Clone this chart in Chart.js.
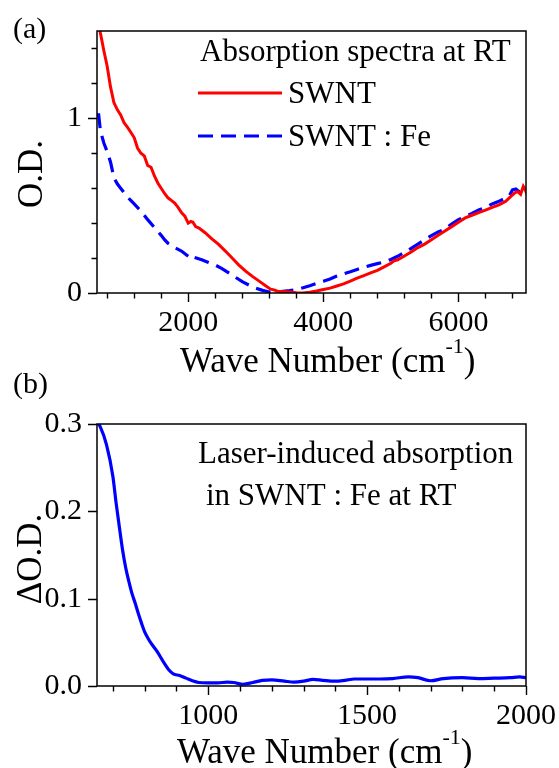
<!DOCTYPE html>
<html>
<head>
<meta charset="utf-8">
<script src="https://cdn.jsdelivr.net/npm/chart.js@4.4.1/dist/chart.umd.min.js"></script>
<style>
  html, body { margin: 0; padding: 0; background: #fff; }
  #wrap { position: relative; width: 559px; height: 768px; }
  #wrap canvas { position: absolute; left: 0; top: 0; }
</style>
</head>
<body>
<div id="wrap">
  <canvas id="absChart" width="559" height="768"></canvas>
  <canvas id="liaChart" width="559" height="768"></canvas>
</div>
<script>
// ---- (a) absorption spectra at room temperature ----
const swntWave = [650, 700, 750, 800, 850, 900, 950, 1000, 1050, 1100, 1150, 1200, 1250, 1300, 1350, 1400,
  1450, 1500, 1550, 1600, 1650, 1700, 1750, 1800, 1850, 1900, 1950, 2000, 2040, 2070, 2110, 2160, 2250,
  2350, 2450, 2550, 2650, 2750, 2850, 2950, 3050, 3150, 3220, 3270, 3320, 3400, 3500, 3600, 3700, 3800,
  3900, 4000, 4100, 4200, 4300, 4400, 4500, 4600, 4700, 4800, 4900, 5000, 5050, 5100, 5200, 5300, 5400,
  5500, 5600, 5700, 5800, 5900, 6000, 6100, 6200, 6300, 6400, 6500, 6600, 6700, 6780, 6840, 6880, 6920,
  6960, 6990, 7020];
const swntOD = [1.72, 1.49, 1.39, 1.30, 1.18, 1.09, 1.05, 1.02, 0.975, 0.95, 0.92, 0.89, 0.83, 0.80, 0.785, 0.73,
  0.72, 0.67, 0.63, 0.60, 0.57, 0.545, 0.53, 0.515, 0.49, 0.46, 0.44, 0.40, 0.41, 0.405, 0.38, 0.372, 0.345,
  0.31, 0.278, 0.24, 0.2, 0.16, 0.125, 0.095, 0.068, 0.04, 0.022, 0.018, 0.01, 0.008, 0.006, 0.002, 0.0, 0.005,
  0.012, 0.02, 0.028, 0.04, 0.052, 0.068, 0.085, 0.10, 0.115, 0.13, 0.15, 0.17, 0.185, 0.19, 0.212, 0.235, 0.26,
  0.28, 0.305, 0.33, 0.355, 0.38, 0.405, 0.43, 0.445, 0.46, 0.475, 0.49, 0.505, 0.525, 0.555, 0.575, 0.58, 0.565,
  0.61, 0.59, 0.56];

const feWave = [650, 675, 700, 750, 800, 850, 900, 950, 1000, 1100, 1150, 1200, 1300, 1400, 1500, 1600, 1650,
  1700, 1800, 1900, 2000, 2050, 2080, 2120, 2200, 2300, 2400, 2500, 2600, 2700, 2800, 2900, 3000, 3100, 3200,
  3300, 3400, 3500, 3600, 3700, 3800, 3900, 4000, 4100, 4200, 4300, 4400, 4500, 4600, 4700, 4800, 4900, 5000,
  5100, 5200, 5300, 5400, 5500, 5600, 5700, 5800, 5900, 6000, 6100, 6200, 6300, 6400, 6500, 6600, 6700, 6750,
  6800, 6850, 6900, 6950, 7000];
const feOD = [1.02, 1.02, 0.93, 0.86, 0.81, 0.75, 0.66, 0.625, 0.60, 0.55, 0.53, 0.51, 0.47, 0.42, 0.375, 0.33, 0.305,
  0.285, 0.26, 0.24, 0.21, 0.195, 0.205, 0.20, 0.19, 0.175, 0.16, 0.14, 0.115, 0.09, 0.065, 0.045, 0.028, 0.015, 0.006,
  0.004, 0.01, 0.014, 0.02, 0.03, 0.042, 0.055, 0.067, 0.08, 0.097, 0.11, 0.122, 0.135, 0.148, 0.158, 0.168, 0.178, 0.192,
  0.21, 0.232, 0.255, 0.28, 0.305, 0.328, 0.35, 0.365, 0.395, 0.42, 0.438, 0.455, 0.475, 0.49, 0.51, 0.525, 0.545, 0.555,
  0.59, 0.595, 0.58, 0.59, 0.60];

const absXLabels = [2000, 4000, 6000];
const absXMinor = [800, 1200, 1600, 2400, 2800, 3200, 3600, 4400, 4800, 5200, 5600, 6400, 6800];
const absYLabels = [0, 1];
const absYMinor = [0.2, 0.4, 0.6, 0.8, 1.2, 1.4];

// ---- (b) laser-induced absorption in SWNT : Fe ----
const liaWave = [650, 660, 680, 700, 710, 720, 730, 740, 750, 760, 770, 780, 790, 800, 810, 820, 840, 860, 875,
  890, 910, 930, 950, 970, 1000, 1030, 1060, 1080, 1110, 1140, 1170, 1200, 1240, 1270, 1300, 1330, 1360, 1400,
  1430, 1460, 1500, 1540, 1580, 1630, 1660, 1700, 1740, 1800, 1850, 1900, 1950, 1980, 2000];
const liaDOD = [0.302, 0.297, 0.276, 0.24, 0.21, 0.183, 0.157, 0.136, 0.12, 0.106, 0.095, 0.083, 0.072, 0.062, 0.055,
  0.049, 0.039, 0.027, 0.019, 0.014, 0.012, 0.009, 0.006, 0.004, 0.0035, 0.0035, 0.0045, 0.004, 0.002, 0.004, 0.0065,
  0.007, 0.0055, 0.0045, 0.0055, 0.0075, 0.0065, 0.0055, 0.0065, 0.008, 0.008, 0.008, 0.0085, 0.0105, 0.0095, 0.006,
  0.0085, 0.0095, 0.0085, 0.009, 0.0095, 0.0105, 0.0095];

const liaXLabels = [1000, 1500, 2000];
const liaXMinor = [700, 800, 900, 1100, 1200, 1300, 1400, 1600, 1700, 1800, 1900];
const liaYLabels = [0, 0.1, 0.2, 0.3];

const SERIF = "'Liberation Serif', 'Times New Roman', Times, serif";
const toPoints = (xs, ys) => xs.map((x, i) => ({ x, y: ys[i] }));

// Frame, outward tick marks and all panel text.
function makeDecor(spec) {
  return {
    id: 'panelDecor',
    afterDraw(chart) {
      const { ctx, chartArea: a } = chart;
      const xs = chart.scales.x, ys = chart.scales.y;
      ctx.save();
      ctx.strokeStyle = '#000';
      ctx.lineWidth = 1.5;
      ctx.strokeRect(a.left, a.top, a.right - a.left, a.bottom - a.top);

      ctx.lineWidth = 1.4;
      ctx.beginPath();
      const tickX = (vals, len) => vals.forEach(v => {
        const p = Math.round(xs.getPixelForValue(v)) + 0.5;
        ctx.moveTo(p, a.bottom); ctx.lineTo(p, a.bottom + len);
      });
      const tickY = (vals, len) => vals.forEach(v => {
        const p = Math.round(ys.getPixelForValue(v)) + 0.5;
        ctx.moveTo(a.left, p); ctx.lineTo(a.left - len, p);
      });
      tickX(spec.xMajor, 9); tickX(spec.xMinor, 5.5);
      tickY(spec.yMajor, 9); tickY(spec.yMinor, 5.5);
      ctx.stroke();

      ctx.fillStyle = '#000';
      ctx.textBaseline = 'alphabetic';
      ctx.textAlign = 'left';

      // panel letter
      ctx.font = `30px ${SERIF}`;
      ctx.fillText(spec.panel, 13, a.top + spec.panelDy);

      // x-axis title with superscript
      ctx.font = `35px ${SERIF}`;
      const main = 'Wave Number (cm';
      let x = spec.xTitleX;
      const base = a.bottom + spec.xTitleDy;
      ctx.fillText(main, x, base);
      x += ctx.measureText(main).width;
      ctx.font = `22px ${SERIF}`;
      ctx.fillText('-1', x, base - 19);
      x += ctx.measureText('-1').width;
      ctx.font = `35px ${SERIF}`;
      ctx.fillText(')', x, base);

      // y-axis title, rotated
      ctx.save();
      ctx.translate(spec.yTitleX, spec.yTitleY);
      ctx.rotate(-Math.PI / 2);
      ctx.textAlign = 'center';
      ctx.font = `35px ${SERIF}`;
      ctx.fillText(spec.yTitle, 0, 0);
      ctx.restore();

      // in-plot notes / legend
      ctx.font = `31px ${SERIF}`;
      spec.notes.forEach(n => ctx.fillText(n.text, a.left + n.dx, a.top + n.dy));
      (spec.keys || []).forEach(k => {
        const ds = chart.data.datasets[k.index];
        ctx.save();
        ctx.strokeStyle = ds.borderColor;
        ctx.lineWidth = ds.borderWidth;
        ctx.setLineDash(ds.borderDash || []);
        ctx.beginPath();
        ctx.moveTo(a.left + k.dx, a.top + k.dy);
        ctx.lineTo(a.left + k.dx + 84, a.top + k.dy);
        ctx.stroke();
        ctx.restore();
        ctx.fillText(ds.label, a.left + k.dx + 90, a.top + k.dy + 10);
      });
      ctx.restore();
    }
  };
}

function axisX(min, max, labels, fit) {
  return {
    type: 'linear', min, max,
    grid: { display: false, drawTicks: true, tickLength: 9 },
    border: { display: false },
    afterBuildTicks: s => { s.ticks = labels.map(v => ({ value: v })); },
    afterFit: s => { s.height = fit; },
    ticks: { font: { family: SERIF, size: 30 }, color: '#000', padding: 3, maxRotation: 0, autoSkip: false,
      callback: v => String(v) }
  };
}
function axisY(min, max, labels, fmt) {
  return {
    type: 'linear', min, max,
    grid: { display: false, drawTicks: true, tickLength: 9 },
    border: { display: false },
    afterBuildTicks: s => { s.ticks = labels.map(v => ({ value: v })); },
    afterFit: s => { s.width = 97; },
    ticks: { font: { family: SERIF, size: 30 }, color: '#000', padding: 6, autoSkip: false, callback: fmt }
  };
}

const common = {
  responsive: false,
  animation: false,
  events: [],
  plugins: { legend: { display: false }, tooltip: { enabled: false } },
  elements: { point: { radius: 0 } }
};

new Chart(document.getElementById('absChart'), {
  type: 'line',
  data: {
    datasets: [
      { label: 'SWNT', data: toPoints(swntWave, swntOD), borderColor: '#ff0000', borderWidth: 3,
        tension: 0, fill: false },
      { label: 'SWNT : Fe', data: toPoints(feWave, feOD), borderColor: '#0000ff', borderWidth: 3.2,
        borderDash: [15, 8], tension: 0, fill: false }
    ]
  },
  options: Object.assign({}, common, {
    layout: { padding: { left: 0, top: 31, right: 33, bottom: 768 - 293 - 60 } },
    scales: {
      x: axisX(650, 7000, absXLabels, 60),
      y: axisY(0, 1.5, absYLabels, v => String(v))
    }
  }),
  plugins: [makeDecor({
    panel: '(a)', panelDy: 7,
    xMajor: absXLabels, xMinor: absXMinor, yMajor: absYLabels, yMinor: absYMinor,
    xTitleX: 180, xTitleDy: 79,
    yTitle: 'O.D.', yTitleX: 42, yTitleY: 174,
    notes: [{ text: 'Absorption spectra at RT', dx: 103, dy: 30 }],
    keys: [{ index: 0, dx: 101, dy: 62 }, { index: 1, dx: 101, dy: 105 }]
  })]
});

new Chart(document.getElementById('liaChart'), {
  type: 'line',
  data: {
    datasets: [
      { label: 'Laser-induced absorption', data: toPoints(liaWave, liaDOD), borderColor: '#0000ff',
        borderWidth: 3.2, tension: 0.4, cubicInterpolationMode: 'monotone', fill: false }
    ]
  },
  options: Object.assign({}, common, {
    layout: { padding: { left: 0, top: 424, right: 33, bottom: 768 - 686 - 60 } },
    scales: {
      x: axisX(650, 2000, liaXLabels, 60),
      y: axisY(0, 0.3, liaYLabels, v => v.toFixed(1))
    }
  }),
  plugins: [makeDecor({
    panel: '(b)', panelDy: -31,
    xMajor: liaXLabels, xMinor: liaXMinor, yMajor: liaYLabels, yMinor: [],
    xTitleX: 177, xTitleDy: 77,
    yTitle: '\u0394O.D.', yTitleX: 41, yTitleY: 559,
    notes: [
      { text: 'Laser-induced absorption', dx: 101, dy: 39 },
      { text: 'in SWNT : Fe at RT', dx: 109, dy: 81 }
    ]
  })]
});
</script>
</body>
</html>
